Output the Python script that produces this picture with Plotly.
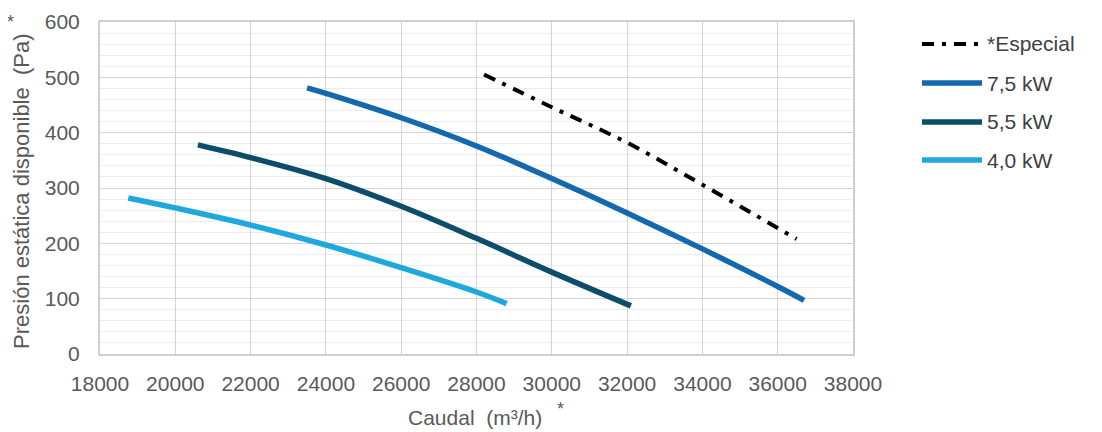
import plotly.graph_objects as go

# Caudal (m3/h) / Presión (Pa)
esp_x = [28200, 30000, 32000, 34000, 36500]
esp_y = [505, 446, 382, 306, 208]

kw75_x = [23500, 24000, 26000, 28000, 30000, 32000, 34000, 36000, 36700]
kw75_y = [481, 471, 427, 376, 317, 255, 190, 122, 97]

kw55_x = [20600, 22000, 24000, 26000, 28000, 30000, 32100]
kw55_y = [378, 355, 317, 267, 209, 148, 87]

kw40_x = [18750, 20000, 22000, 24000, 26000, 28000, 28800]
kw40_y = [282, 264, 233, 197, 156, 112, 91]

series = [
    ('*Especial', esp_x, esp_y, 'black', 4, '12px,8px,4px,8px'),
    ('7,5 kW', kw75_x, kw75_y, '#1468ad', 5.5, 'solid'),
    ('5,5 kW', kw55_x, kw55_y, '#0c4d6a', 5.5, 'solid'),
    ('4,0 kW', kw40_x, kw40_y, '#1ea8de', 5.5, 'solid'),
]

fig = go.Figure()
for name, xs, ys, color, width, dash in series:
    fig.add_trace(go.Scatter(x=xs, y=ys, mode='lines', name=name,
                             line=dict(color=color, width=width, dash=dash, shape='spline'),
                             showlegend=False))

fig.update_xaxes(
    range=[18000, 38000], dtick=2000, tickformat='d',
    showgrid=True, gridcolor='#d4d4d4', gridwidth=1,
    showline=True, linecolor='#cfcfcf', linewidth=2, mirror=True,
    ticks='', ticklabelstandoff=10, automargin=False,
    tickfont=dict(size=21, color='#595959'),
    zeroline=False
)
fig.update_yaxes(
    range=[0, 600], dtick=100,
    showgrid=True, gridcolor='#d4d4d4', gridwidth=1,
    minor=dict(dtick=20, showgrid=True, gridcolor='#ececec', gridwidth=1),
    showline=True, linecolor='#cfcfcf', linewidth=2, mirror=True,
    ticks='', ticklabelstandoff=14, automargin=False,
    tickfont=dict(size=21, color='#595959'),
    zeroline=False
)

# legend drawn by hand (long line samples like the original)
leg_y = [0.934, 0.816, 0.699, 0.584]
shapes = []
annotations = []
for (name, xs, ys, color, width, dash), yy in zip(series, leg_y):
    shapes.append(dict(type='line', xref='paper', yref='paper',
                       x0=1.0916, x1=1.1713, y0=yy, y1=yy,
                       line=dict(color=color, width=width, dash=dash)))
    annotations.append(dict(text=name, x=1.1753, y=yy, xref='paper', yref='paper',
                            showarrow=False, xanchor='left', yanchor='middle',
                            font=dict(size=21, color='#404040')))

# axis titles and asterisks
annotations += [
    dict(text='Presión estática disponible  (Pa)', x=-0.1036, y=0.491, xref='paper', yref='paper',
         showarrow=False, textangle=-90, xanchor='center', yanchor='middle',
         font=dict(size=22, color='#595959')),
    dict(text='Caudal  (m³/h)', x=0.498, y=-0.19, xref='paper', yref='paper',
         showarrow=False, xanchor='center', yanchor='middle',
         font=dict(size=21, color='#595959')),
    dict(text='*', x=-0.1195, y=1.0, xref='paper', yref='paper',
         showarrow=False, xanchor='center', yanchor='middle',
         font=dict(size=18, color='#595959')),
    dict(text='*', x=0.611, y=-0.165, xref='paper', yref='paper',
         showarrow=False, xanchor='center', yanchor='middle',
         font=dict(size=18, color='#595959')),
]

# the page body adds an 8px offset, so margins are shifted to keep the plot box in place
fig.update_layout(
    width=1102, height=432,
    margin=dict(l=92, r=257, t=14, b=86),
    paper_bgcolor='white', plot_bgcolor='white',
    font=dict(family='Liberation Sans, Arial, sans-serif', color='#595959'),
    showlegend=False,
    shapes=shapes,
    annotations=annotations,
)

fig.write_html("out.html")
